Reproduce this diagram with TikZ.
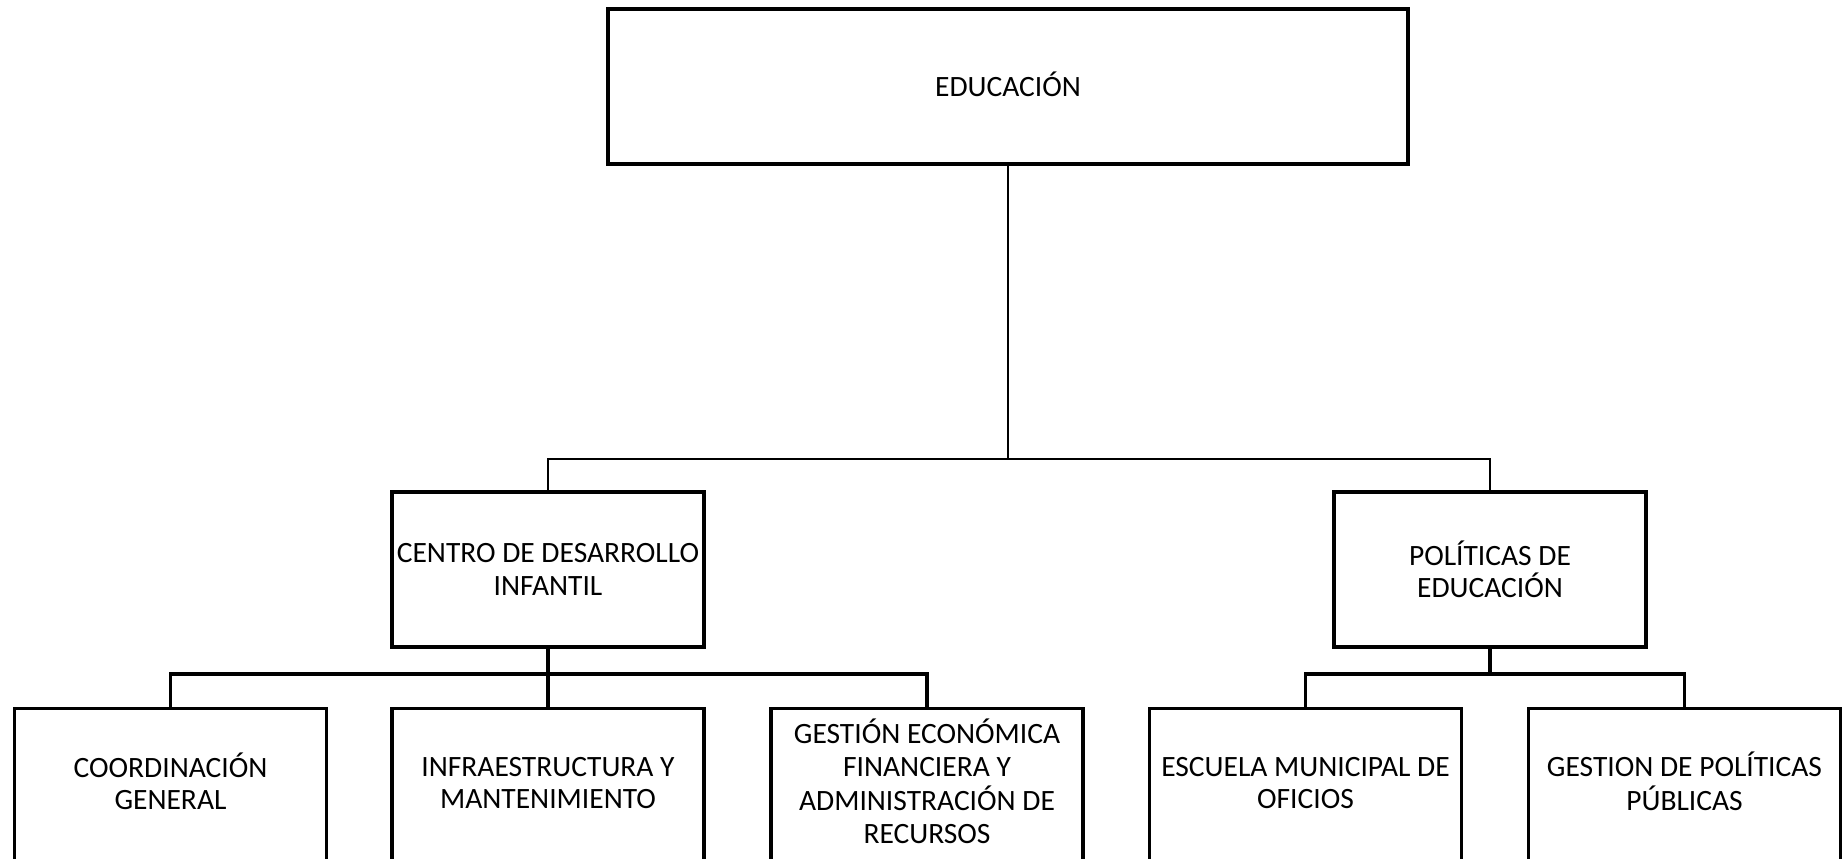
\documentclass[tikz,border=0pt]{standalone}
\usepackage{fontspec}
\setmainfont{Carlito}
\newcommand{\boxlines}[2][4pt]{\raisebox{#1}{\begin{tabular}{@{}c@{}}#2\end{tabular}}}
\begin{document}
\begin{tikzpicture}[x=1pt,y=-1pt,
  box/.style={draw, line width=3.2pt, minimum width=312pt, minimum height=155pt,
    align=center, inner sep=0pt, font=\fontsize{29.5}{32.5}\selectfont},
  topbox/.style={box, minimum width=800pt},
  thinline/.style={line width=1.3pt},
  thickline/.style={line width=3.2pt}]
\useasboundingbox (0,0) rectangle (1847,859);
\clip (0,0) rectangle (1847,859);
\node[topbox] (top) at (1008,86.5) {\raisebox{4pt}{EDUCACIÓN}};
\node[box] (cdi) at (548,569.5) {CENTRO DE DESARROLLO\\INFANTIL};
\node[box] (pol) at (1490,569.5) {POLÍTICAS DE\\EDUCACIÓN};
\node[box] (b1) at (170.5,786) {\boxlines[5pt]{COORDINACIÓN\\GENERAL}};
\node[box] (b2) at (548,786) {\boxlines[5pt]{INFRAESTRUCTURA Y\\MANTENIMIENTO}};
\node[box] (b3) at (927,786) {\boxlines[2pt]{GESTIÓN ECONÓMICA\\FINANCIERA Y\\ADMINISTRACIÓN DE\\RECURSOS}};
\node[box] (b4) at (1305.5,786) {\boxlines[5pt]{ESCUELA MUNICIPAL DE\\OFICIOS}};
\node[box] (b5) at (1684.5,786) {\boxlines[5pt]{GESTION DE POLÍTICAS\\PÚBLICAS}};
\coordinate (j0) at (1008,459);
\coordinate (j1) at (548,674);
\coordinate (j2) at (1490,674);
\draw[thinline] (top.south) -- (j0);
\draw[thinline] (cdi.north) |- (j0) -| (pol.north);
\draw[thickline] (cdi.south) -- (j1);
\draw[thickline] (b1.north) |- (j1) -| (b3.north);
\draw[thickline] (j1) -- (b2.north);
\draw[thickline] (pol.south) -- (j2);
\draw[thickline] (b4.north) |- (j2) -| (b5.north);
\end{tikzpicture}
\end{document}
